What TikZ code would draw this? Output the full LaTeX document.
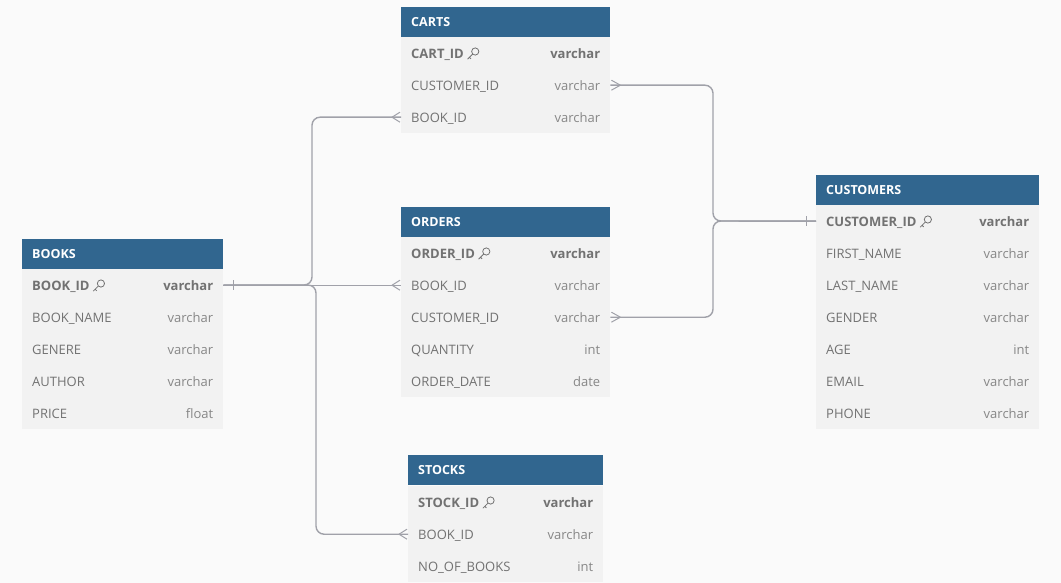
\documentclass[tikz,border=0pt]{standalone}
\usepackage{fontspec}
\setmainfont{Open Sans}
\usetikzlibrary{calc}

\definecolor{headblue}{HTML}{31668F}
\definecolor{rowgray}{HTML}{F2F2F2}
\definecolor{pagegray}{HTML}{FAFAFA}
\definecolor{fieldtext}{HTML}{727272}
\definecolor{typetext}{HTML}{878787}
\definecolor{keytext}{HTML}{727272}
\definecolor{relline}{HTML}{A0A1A9}

\tikzset{
  header/.style = {fill = headblue, anchor = north west, minimum height = 30pt,
    inner sep = 0},
  row/.style = {fill = rowgray, anchor = north west, minimum height = 32pt,
    inner sep = 0},
  title/.style = {anchor = base west, text = white, inner sep = 0,
    font = \bfseries\fontsize{12.5}{14}\selectfont},
  field/.style = {anchor = base west, text = fieldtext, inner sep = 0,
    font = \fontsize{13}{15}\selectfont},
  type/.style = {anchor = base east, text = typetext, inner sep = 0,
    font = \fontsize{13}{15}\selectfont},
  keyfield/.style = {field, text = keytext, font = \bfseries\fontsize{13}{15}\selectfont},
  keytype/.style = {type, text = keytext, font = \bfseries\fontsize{13}{15}\selectfont},
  rel/.style = {draw = relline, line width = 1.4pt, rounded corners = 8pt},
  foot/.style = {draw = relline, line width = 1pt},
  pics/keyicon/.style = {code = {
    \draw[keytext, line width = 0.8pt] (2.2, -2.2) circle[radius = 3.6];
    \draw[keytext, line width = 0.8pt] (-0.4, 0.4) -- (-5.5, 5.5)
      (-3.6, 3.6) -- (-2, 5.2);
  }}
}

\begin{document}
\begin{tikzpicture}[x = 1pt, y = -1pt]
  \fill[pagegray] (0, 0) rectangle (1061, 583);
  \useasboundingbox (0, 0) rectangle (1061, 583);

  % carts
  \node[header, minimum width = 209pt] (carts) at (401, 7) {};
  \node[title] at ($(carts.west) + (10, 4.6)$) {CARTS};
  \node[row, minimum width = 209pt] (carts-1) at (401, 37) {};
  \node[keyfield] (carts-1-name) at ($(carts-1.west) + (10, 5.3)$) {CART\_ID};
  \pic at ($(carts-1-name.base east) + (9, -4.8)$) {keyicon};
  \node[keytype] at ($(carts-1.east) + (-10, 5.3)$) {varchar};
  \foreach \field/\kind [count = \i from 2] in {CUSTOMER\_ID/varchar, BOOK\_ID/varchar} {
    \node[row, minimum width = 209pt] (carts-\i) at (401, {5 + 32 * \i}) {};
    \node[field] at ($(carts-\i.west) + (10, 5.3)$) {\field};
    \node[type] at ($(carts-\i.east) + (-10, 5.3)$) {\kind};
  }

  % orders
  \node[header, minimum width = 209pt] (orders) at (401, 207) {};
  \node[title] at ($(orders.west) + (10, 4.6)$) {ORDERS};
  \node[row, minimum width = 209pt] (orders-1) at (401, 237) {};
  \node[keyfield] (orders-1-name) at ($(orders-1.west) + (10, 5.3)$) {ORDER\_ID};
  \pic at ($(orders-1-name.base east) + (9, -4.8)$) {keyicon};
  \node[keytype] at ($(orders-1.east) + (-10, 5.3)$) {varchar};
  \foreach \field/\kind [count = \i from 2] in {BOOK\_ID/varchar,
    CUSTOMER\_ID/varchar, QUANTITY/int, ORDER\_DATE/date} {
    \node[row, minimum width = 209pt] (orders-\i) at (401, {205 + 32 * \i}) {};
    \node[field] at ($(orders-\i.west) + (10, 5.3)$) {\field};
    \node[type] at ($(orders-\i.east) + (-10, 5.3)$) {\kind};
  }

  % books
  \node[header, minimum width = 201pt] (books) at (22, 239) {};
  \node[title] at ($(books.west) + (10, 4.6)$) {BOOKS};
  \node[row, minimum width = 201pt] (books-1) at (22, 269) {};
  \node[keyfield] (books-1-name) at ($(books-1.west) + (10, 5.3)$) {BOOK\_ID};
  \pic at ($(books-1-name.base east) + (9, -4.8)$) {keyicon};
  \node[keytype] at ($(books-1.east) + (-10, 5.3)$) {varchar};
  \foreach \field/\kind [count = \i from 2] in {BOOK\_NAME/varchar,
    GENERE/varchar, AUTHOR/varchar, PRICE/float} {
    \node[row, minimum width = 201pt] (books-\i) at (22, {237 + 32 * \i}) {};
    \node[field] at ($(books-\i.west) + (10, 5.3)$) {\field};
    \node[type] at ($(books-\i.east) + (-10, 5.3)$) {\kind};
  }

  % customers
  \node[header, minimum width = 223pt] (customers) at (816, 175) {};
  \node[title] at ($(customers.west) + (10, 4.6)$) {CUSTOMERS};
  \node[row, minimum width = 223pt] (customers-1) at (816, 205) {};
  \node[keyfield] (customers-1-name) at ($(customers-1.west) + (10, 5.3)$) {CUSTOMER\_ID};
  \pic at ($(customers-1-name.base east) + (9, -4.8)$) {keyicon};
  \node[keytype] at ($(customers-1.east) + (-10, 5.3)$) {varchar};
  \foreach \field/\kind [count = \i from 2] in {FIRST\_NAME/varchar,
    LAST\_NAME/varchar, GENDER/varchar, AGE/int, EMAIL/varchar, PHONE/varchar} {
    \node[row, minimum width = 223pt] (customers-\i) at (816, {173 + 32 * \i}) {};
    \node[field] at ($(customers-\i.west) + (10, 5.3)$) {\field};
    \node[type] at ($(customers-\i.east) + (-10, 5.3)$) {\kind};
  }

  % stocks
  \node[header, minimum width = 195pt] (stocks) at (408, 455) {};
  \node[title] at ($(stocks.west) + (10, 4.6)$) {STOCKS};
  \node[row, minimum width = 195pt] (stocks-1) at (408, 486) {};
  \node[keyfield] (stocks-1-name) at ($(stocks-1.west) + (10, 5.3)$) {STOCK\_ID};
  \pic at ($(stocks-1-name.base east) + (9, -4.8)$) {keyicon};
  \node[keytype] at ($(stocks-1.east) + (-10, 5.3)$) {varchar};
  \foreach \field/\kind [count = \i from 2] in {BOOK\_ID/varchar, NO\_OF\_BOOKS/int} {
    \node[row, minimum width = 195pt] (stocks-\i) at (408, {454 + 32 * \i}) {};
    \node[field] at ($(stocks-\i.west) + (10, 5.3)$) {\field};
    \node[type] at ($(stocks-\i.east) + (-10, 5.3)$) {\kind};
  }

  % relations
  \coordinate (bookfork) at (312, 285);
  \coordinate (stockfork) at (316, 285);
  \coordinate (custfork) at (713, 221);
  \draw[rel] (books-1.east) -- (bookfork) |- (carts-3.west);
  \draw[rel] (books-1.east) -- (orders-2.west);
  \draw[rel] (books-1.east) -- (stockfork) |- (stocks-2.west);
  \draw[rel] (carts-2.east) -| (custfork) -- (customers-1.west);
  \draw[rel] (orders-3.east) -| (custfork) -- (customers-1.west);

  \foreach \n in {carts-3, orders-2, stocks-2}
    \draw[foot] ($(\n.west) + (-9, 0)$) -- ++(8, -5) ++(-8, 5) -- ++(8, 5);
  \foreach \n in {carts-2, orders-3}
    \draw[foot] ($(\n.east) + (10, 0)$) -- ++(-9, -5) ++(9, 5) -- ++(-9, 5);
  \draw[foot] ($(books-1.east) + (10, -5)$) -- ++(0, 10);
  \draw[foot] ($(customers-1.west) + (-10, -5)$) -- ++(0, 10);
\end{tikzpicture}
\end{document}
